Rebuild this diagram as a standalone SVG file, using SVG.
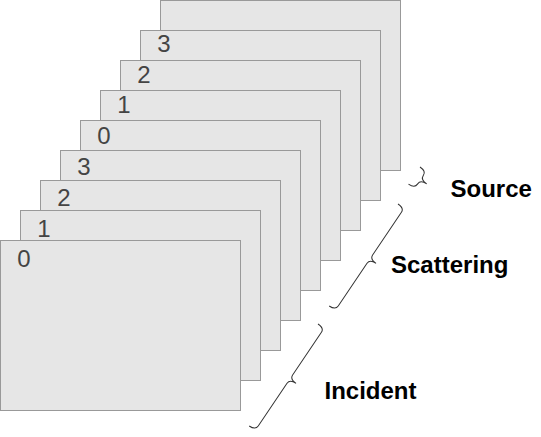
<svg xmlns="http://www.w3.org/2000/svg" width="541" height="437" viewBox="0 0 541 437">
<style>
.frame{fill:#e6e6e6;stroke:#999;stroke-width:1}
.num{font-family:"Liberation Sans",Arial,sans-serif;font-size:24px;fill:#444}
.lbl{font-family:"Liberation Sans",Arial,sans-serif;font-size:24px;font-weight:bold;fill:#000}
.brace{fill:none;stroke:#333;stroke-width:1}
</style>
<rect width="541" height="437" fill="#fff"/>
<g id="frame8"><rect class="frame" x="160.5" y="0.5" width="240" height="170"/></g>
<g id="frame7"><rect class="frame" x="140.5" y="30.5" width="240" height="170"/><text class="num" x="157.3" y="51.7">3</text></g>
<g id="frame6"><rect class="frame" x="120.5" y="60.5" width="240" height="170"/><text class="num" x="137.3" y="82.5">2</text></g>
<g id="frame5"><rect class="frame" x="100.5" y="90.5" width="240" height="170"/><text class="num" x="117.3" y="113.3">1</text></g>
<g id="frame4"><rect class="frame" x="80.5" y="120.5" width="240" height="170"/><text class="num" x="97.3" y="144.1">0</text></g>
<g id="frame3"><rect class="frame" x="60.5" y="150.5" width="240" height="170"/><text class="num" x="77.3" y="174.9">3</text></g>
<g id="frame2"><rect class="frame" x="40.5" y="180.5" width="240" height="170"/><text class="num" x="57.3" y="205.7">2</text></g>
<g id="frame1"><rect class="frame" x="20.5" y="210.5" width="240" height="170"/><text class="num" x="37.3" y="236.5">1</text></g>
<g id="frame0"><rect class="frame" x="0.5" y="240.5" width="240" height="170"/><text class="num" x="17.3" y="267.3">0</text></g>
<g id="braces">
<path class="brace" transform="translate(420,167) rotate(124)" d="M0,0 C0,-5 2,-7.5 5,-7.5 L5.3,-7.5 C8.3,-7.5 10.3,-10 10.3,-15 C10.3,-10 12.3,-7.5 15.3,-7.5 L15.6,-7.5 C18.6,-7.5 20.6,-5 20.6,0"/>
<path class="brace" transform="translate(398,204) rotate(124)" d="M0,0 C0,-5 2,-7.5 5,-7.5 L56.5,-7.5 C59.5,-7.5 61.5,-10 61.5,-15 C61.5,-10 63.5,-7.5 66.5,-7.5 L118,-7.5 C121,-7.5 123,-5 123,0"/>
<path class="brace" transform="translate(318,324) rotate(124)" d="M0,0 C0,-5 2,-7.5 5,-7.5 L56.5,-7.5 C59.5,-7.5 61.5,-10 61.5,-15 C61.5,-10 63.5,-7.5 66.5,-7.5 L118,-7.5 C121,-7.5 123,-5 123,0"/>
</g>
<g id="labels">
<text class="lbl" x="450.5" y="197">Source</text>
<text class="lbl" x="391" y="273">Scattering</text>
<text class="lbl" x="324.5" y="399">Incident</text>
</g>
</svg>
